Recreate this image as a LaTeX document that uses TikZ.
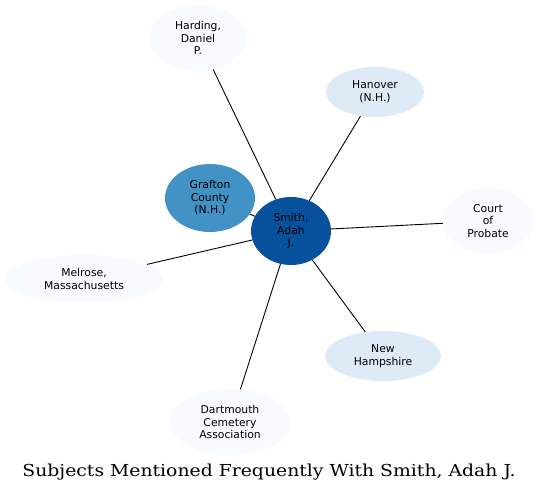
\documentclass[tikz,border=0pt]{standalone}
\usepackage{fontspec}
\newfontfamily\nodefont{DejaVu Sans}
\newfontfamily\titlefont{DejaVu Serif}
\usetikzlibrary{shapes.geometric}
\definecolor{cdark}{HTML}{08519C}
\definecolor{cmid}{HTML}{4292C6}
\definecolor{clight}{HTML}{DEEBF7}
\definecolor{cpale}{HTML}{F7FBFF}
\tikzset{
  subj/.style={ellipse, inner sep=0pt, align=center, font=\nodefont\fontsize{10.8}{12.5}\selectfont},
  link/.style={draw=black, line width=0.9pt}
}
\begin{document}
\begin{tikzpicture}[x=1pt,y=1pt]
\useasboundingbox[fill=white] (0,0) rectangle (538,-492);
\node[subj, fill=cpale, minimum width=97, minimum height=66] (harding) at (198,-38) {Harding,\\Daniel\\P.};
\node[subj, fill=clight, minimum width=98, minimum height=50] (hanover) at (375,-92) {Hanover\\(N.H.)};
\node[subj, fill=cpale, minimum width=90, minimum height=66] (court) at (488,-221) {Court\\of\\Probate};
\node[subj, fill=clight, minimum width=116, minimum height=50] (newh) at (383,-356) {New\\Hampshire};
\node[subj, fill=cpale, minimum width=120, minimum height=66] (dart) at (230,-422) {Dartmouth\\Cemetery\\Association};
\node[subj, fill=cpale, minimum width=158, minimum height=48] (melrose) at (84,-279) {Melrose,\\Massachusetts};
\node[subj, fill=cmid, minimum width=90, minimum height=68] (grafton) at (210,-198) {Grafton\\County\\(N.H.)};
\node[subj, fill=cdark, minimum width=80, minimum height=68] (smith) at (291,-231) {Smith,\\Adah\\J.};
\draw[link] (smith) -- (harding);
\draw[link] (smith) -- (hanover);
\draw[link] (smith) -- (court);
\draw[link] (smith) -- (newh);
\draw[link] (smith) -- (dart);
\draw[link] (smith) -- (melrose);
\draw[link] (smith) -- (grafton);
\node[font=\titlefont\fontsize{16.5}{19}\selectfont] (title) at (269,-472) {\scalebox{1.14}[1]{Subjects Mentioned Frequently With Smith, Adah J.}};
\end{tikzpicture}
\end{document}
